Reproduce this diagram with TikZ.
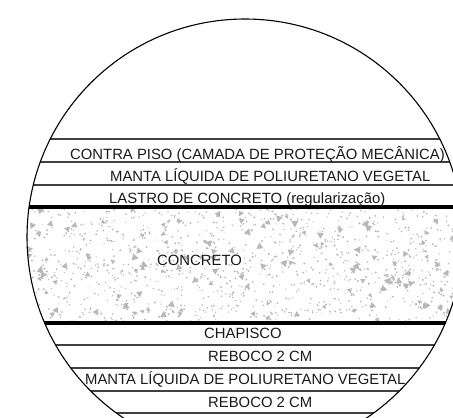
\documentclass[tikz,border=0pt]{standalone}
\usepackage{fontspec}
\setmainfont{Liberation Sans}
\definecolor{speck}{gray}{0.72}
\begin{document}
\begin{tikzpicture}[x=1pt,y=-1pt,
  layertext/.style={inner sep=0pt,text=black!90,font=\fontsize{14.85}{16}\selectfont,anchor=base west},
  thinline/.style={line width=1.2pt,black!75},
  thickline/.style={line width=3.2pt,black}]
\useasboundingbox (0,0) rectangle (453,418);
\def\cx{245}\def\cy{237}\def\rr{218}
\begin{scope}
\clip (0,0) rectangle (453,418);
\begin{scope}
  \clip (\cx,\cy) circle (\rr);
  \begin{scope}
    \clip (0,209) rectangle (453,321);
    \pgfmathsetseed{4217}
    \foreach \i in {1,...,1000}{
      \pgfmathsetmacro{\px}{27+rnd*426}
      \pgfmathsetmacro{\py}{209+rnd*112}
      \pgfmathsetmacro{\ps}{0.6+rnd*0.5}
      \fill[speck] (\px,\py) circle (\ps);
    }
    \foreach \i in {1,...,125}{
      \pgfmathsetmacro{\px}{27+rnd*426}
      \pgfmathsetmacro{\py}{209+rnd*112}
      \pgfmathsetmacro{\ps}{2.2+rnd*2.2}
      \pgfmathsetmacro{\pa}{rnd*360}
      \fill[speck] (\px,\py) ++(\pa:\ps) -- ++(\pa+130:1.7*\ps) -- ++(\pa+250:1.7*\ps) -- cycle;
      \fill[speck] (\px+3*\ps*rnd-1.5*\ps,\py+3*\ps*rnd-1.5*\ps) circle (1.1);
    }
  \end{scope}
  \foreach \yy in {139,162,185,345,368,391,413}{
    \draw[thinline] (0,\yy) -- (453,\yy);
  }
  \draw[thickline] (0,207) -- (453,207);
  \draw[thickline] (0,323) -- (453,323);
\end{scope}
\draw[line width=1.1pt,black] (\cx,\cy) circle (\rr);
\end{scope}
\node[layertext] (a) at (70,159) {CONTRA PISO (CAMADA DE PROTEÇÃO MECÂNICA)};
\node[layertext] (b) at (110,181) {MANTA LÍQUIDA DE POLIURETANO VEGETAL};
\node[layertext] (c) at (109,203.5) {LASTRO DE CONCRETO (regularização)};
\node[layertext] (d) at (157,265.5) {CONCRETO};
\node[layertext] (e) at (204,338.5) {CHAPISCO};
\node[layertext] (f) at (208,361) {REBOCO 2 CM};
\node[layertext] (g) at (85,384.5) {MANTA LÍQUIDA DE POLIURETANO VEGETAL};
\node[layertext] (h) at (208,407) {REBOCO 2 CM};
\end{tikzpicture}
\end{document}
